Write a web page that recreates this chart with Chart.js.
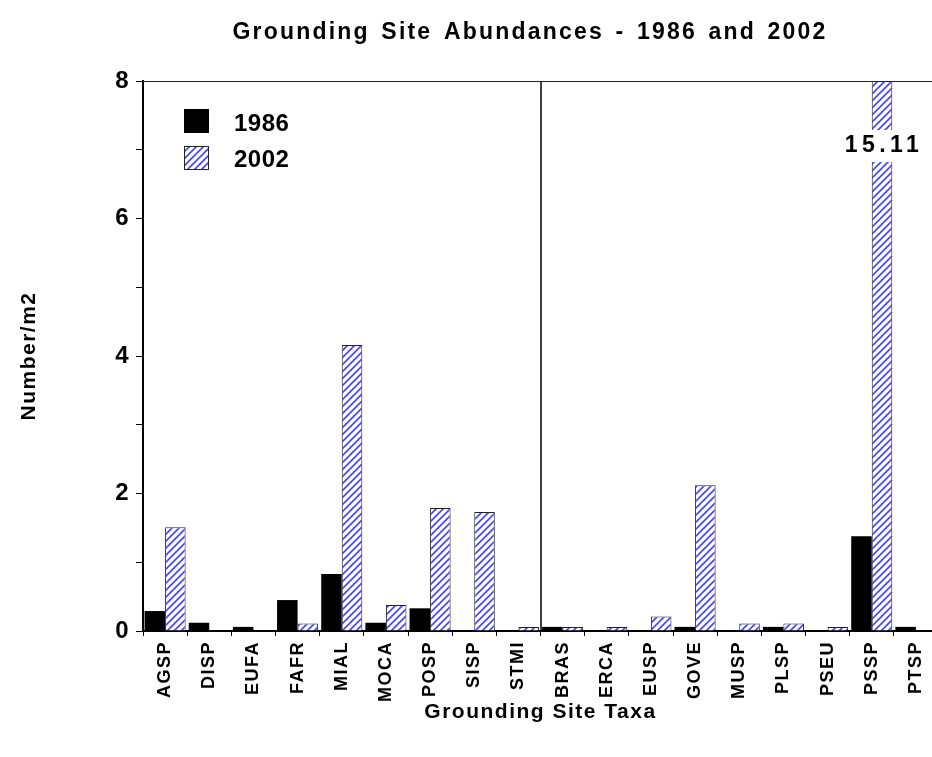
<!DOCTYPE html>
<html>
<head>
<meta charset="utf-8">
<script src="https://cdn.jsdelivr.net/npm/chart.js@4/dist/chart.umd.min.js"></script>
<style>
  html, body { margin: 0; padding: 0; background: #fff; overflow: hidden; }
  #wrap { position: relative; width: 938px; height: 757px; }
</style>
</head>
<body>
<div id="wrap"><canvas id="c" width="938" height="757"></canvas></div>
<script>
// taxa, split into two groups by the vertical divider
const taxa = ['AGSP', 'DISP', 'EUFA', 'FAFR', 'MIAL', 'MOCA', 'POSP', 'SISP', 'STMI',
              'BRAS', 'ERCA', 'EUSP', 'GOVE', 'MUSP', 'PLSP', 'PSEU', 'PSSP', 'PTSP'];
const firstGroupSize = 9;

const abund1986 = [0.29, 0.12, 0.06, 0.45, 0.83, 0.12, 0.33, 0, 0,
                   0.06, 0, 0, 0.06, 0, 0.06, 0, 1.38, 0.06];
const abund2002 = [1.51, 0, 0, 0.11, 4.16, 0.38, 1.79, 1.73, 0.06,
                   0.06, 0.06, 0.21, 2.12, 0.11, 0.11, 0.06, 15.11, 0];

const yMax = 8;
const yTickLabels = [0, 2, 4, 6, 8];
const seriesNames = ['1986', '2002'];

const FONT = '"Liberation Sans", Arial, Helvetica, sans-serif';

const canvas = document.getElementById('c');
const ctx = canvas.getContext('2d');

// blue diagonal hatch
function makeHatch() {
    const s = 7;
    const tile = document.createElement('canvas');
    tile.width = s; tile.height = s;
    const g = tile.getContext('2d');
    g.fillStyle = '#fff';
    g.fillRect(0, 0, s, s);
    g.strokeStyle = '#4848ff';
    g.lineWidth = 1.7;
    g.beginPath();
    g.moveTo(-1, s + 1); g.lineTo(s + 1, -1);
    g.moveTo(-1, 1); g.lineTo(1, -1);
    g.moveTo(s - 1, s + 1); g.lineTo(s + 1, s - 1);
    g.stroke();
    return ctx.createPattern(tile, 'repeat');
}
const stripes = makeHatch();

// every label in the original has a loose letter spacing
const spacingPlugin = {
    id: 'spacing',
    beforeLayout(chart) { chart.ctx.letterSpacing = '1.5px'; },
    beforeDraw(chart) { chart.ctx.letterSpacing = '1.5px'; }
};

const decorPlugin = {
    id: 'decor',
    afterDatasetsDraw(chart) {
        const { ctx, chartArea: a, scales } = chart;
        const xs = scales.x;
        ctx.save();
        // frame top
        ctx.strokeStyle = '#222';
        ctx.lineWidth = 1;
        ctx.beginPath();
        ctx.moveTo(a.left, a.top + 0.5);
        ctx.lineTo(a.right, a.top + 0.5);
        ctx.stroke();
        // group divider
        const xd = Math.round((xs.getPixelForValue(firstGroupSize - 1) + xs.getPixelForValue(firstGroupSize)) / 2);
        ctx.strokeStyle = '#000';
        ctx.lineWidth = 1.5;
        ctx.beginPath();
        ctx.moveTo(xd, a.top);
        ctx.lineTo(xd, a.bottom);
        ctx.stroke();

        // off-scale value label on clipped bars
        const meta = chart.getDatasetMeta(1);
        abund2002.forEach((v, i) => {
            if (v <= yMax) return;
            const bar = meta.data[i];
            const cy = 145;
            ctx.fillStyle = '#fff';
            ctx.fillRect(bar.x - bar.width / 2 - 2, cy - 15, bar.width + 4, 32);
            ctx.fillStyle = '#000';
            ctx.font = 'bold 23px ' + FONT;
            ctx.letterSpacing = '4.5px';
            ctx.textAlign = 'center';
            ctx.textBaseline = 'middle';
            ctx.fillText(v.toFixed(2), bar.x + 2, cy + 1);
        });
        ctx.restore();
    },
    afterDraw(chart) {
        const { ctx } = chart;
        ctx.save();
        // main title
        ctx.fillStyle = '#000';
        ctx.font = 'bold 23px ' + FONT;
        ctx.letterSpacing = '2.2px';
        ctx.wordSpacing = '3px';
        ctx.textAlign = 'center';
        ctx.textBaseline = 'middle';
        ctx.fillText('Grounding Site Abundances - 1986 and 2002', 530, 33);

        // legend
        ctx.wordSpacing = '0px';
        ctx.letterSpacing = '0.5px';
        ctx.font = 'bold 24px ' + FONT;
        ctx.textAlign = 'left';
        ctx.fillStyle = '#000';
        ctx.fillRect(184, 109, 25, 24);
        ctx.fillStyle = stripes;
        ctx.fillRect(184, 146, 25, 24);
        ctx.strokeStyle = '#222';
        ctx.lineWidth = 1;
        ctx.strokeRect(184.5, 146.5, 24, 23);
        ctx.fillStyle = '#000';
        ctx.fillText(seriesNames[0], 234, 124);
        ctx.fillText(seriesNames[1], 234, 160);
        ctx.restore();
    }
};

new Chart(ctx, {
    type: 'bar',
    data: {
        labels: taxa,
        datasets: [
            {
                label: seriesNames[0],
                data: abund1986,
                backgroundColor: '#000',
                borderWidth: 0
            },
            {
                label: seriesNames[1],
                data: abund2002,
                backgroundColor: stripes,
                borderColor: '#222',
                borderWidth: 1
            }
        ]
    },
    options: {
        responsive: false,
        animation: false,
        events: [],
        layout: { padding: { top: 81, left: 0, right: 0, bottom: 0 } },
        categoryPercentage: 0.93,
        barPercentage: 1,
        plugins: {
            legend: { display: false },
            tooltip: { enabled: false },
            title: { display: false }
        },
        scales: {
            x: {
                grid: { drawOnChartArea: false, tickLength: 5, color: '#000', offset: true },
                border: { color: '#000', width: 2 },
                ticks: {
                    color: '#000',
                    autoSkip: false,
                    minRotation: 90,
                    maxRotation: 90,
                    padding: 5,
                    font: { family: FONT, size: 18, weight: 'bold' }
                },
                title: {
                    display: true,
                    text: 'Grounding Site Taxa',
                    color: '#000',
                    font: { family: FONT, size: 21, weight: 'bold' },
                    padding: { top: 0, bottom: 32 }
                },
                afterFit(s) { s.height = 126; s.paddingLeft = 0; s.paddingRight = 0; }
            },
            y: {
                min: 0,
                max: yMax,
                grid: { drawOnChartArea: false, tickLength: 7, color: '#000' },
                border: { color: '#000', width: 2 },
                ticks: {
                    stepSize: 1,
                    color: '#000',
                    padding: 6,
                    font: { family: FONT, size: 24, weight: 'bold' },
                    callback: v => yTickLabels.includes(v) ? String(v) : ''
                },
                title: {
                    display: true,
                    text: 'Number/m2',
                    color: '#000',
                    font: { family: FONT, size: 21, weight: 'bold' },
                    padding: { top: 17, bottom: 0 }
                },
                afterFit(s) { s.width = 143; s.paddingTop = 0; s.paddingBottom = 0; }
            }
        }
    },
    plugins: [spacingPlugin, decorPlugin]
});
</script>
</body>
</html>
